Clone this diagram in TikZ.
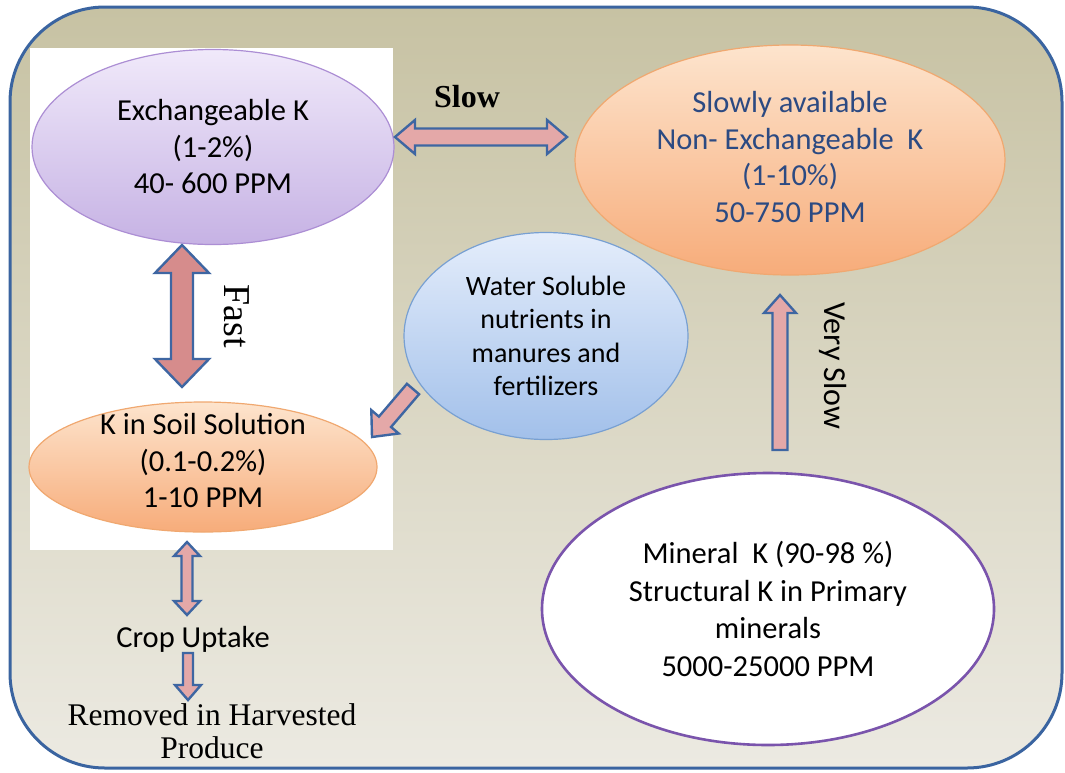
\documentclass[tikz,border=0pt]{standalone}
\usepackage{fontspec}
\setmainfont{Carlito}
\newfontfamily\seriffont{Liberation Serif}
\usetikzlibrary{calc,shapes.geometric}

\definecolor{frameblue}{RGB}{58,100,160}
\definecolor{bgtop}{RGB}{199,194,163}
\definecolor{bgbottom}{RGB}{236,234,226}
\definecolor{arrowpink}{RGB}{228,168,168}
\definecolor{arrowrose}{RGB}{214,140,140}
\definecolor{arrowedge}{RGB}{62,102,162}
\definecolor{lavtop}{RGB}{240,233,250}
\definecolor{lavbottom}{RGB}{198,178,228}
\definecolor{lavedge}{RGB}{172,142,212}
\definecolor{ortop}{RGB}{253,228,205}
\definecolor{orbottom}{RGB}{247,172,122}
\definecolor{oredge}{RGB}{240,168,112}
\definecolor{bltop}{RGB}{228,237,251}
\definecolor{blbottom}{RGB}{162,192,234}
\definecolor{bledge}{RGB}{120,160,210}
\definecolor{minedge}{RGB}{122,84,172}
\definecolor{slowblue}{RGB}{44,74,130}

\newcommand{\fsz}[2]{\fontsize{#1}{#2}\selectfont}

% single block arrow: tail, tip, half shaft, half head, head length
\newcommand{\blocksingle}[6][]{%
  \path ($(#3)!#6!(#2)$) coordinate (hb);
  \path[blockarrow,#1] ($(#2)!#4!90:(#3)$) -- ($(hb)!#4!-90:(#2)$)
    -- ($(hb)!#5!-90:(#2)$) -- (#3) -- ($(hb)!#5!90:(#2)$)
    -- ($(hb)!#4!90:(#2)$) -- ($(#2)!#4!-90:(#3)$) -- cycle;
}
% double block arrow: end a, end b, half shaft, half head, head length
\newcommand{\blockdouble}[6][]{%
  \path ($(#2)!#6!(#3)$) coordinate (ha) ($(#3)!#6!(#2)$) coordinate (hb);
  \path[blockarrow,#1] (#2) -- ($(ha)!#5!90:(#3)$) -- ($(ha)!#4!90:(#3)$)
    -- ($(hb)!#4!-90:(#2)$) -- ($(hb)!#5!-90:(#2)$) -- (#3)
    -- ($(hb)!#5!90:(#2)$) -- ($(hb)!#4!90:(#2)$)
    -- ($(ha)!#4!-90:(#3)$) -- ($(ha)!#5!-90:(#3)$) -- cycle;
}

\begin{document}
\begin{tikzpicture}[x=1pt,y=-1pt,
  blockarrow/.style={fill=arrowpink,draw=arrowedge,line width=2.4pt,line join=miter},
  pool/.style={ellipse,inner sep=0pt,line width=1.2pt},
  pooltext/.style={align=center,inner sep=0pt,font=\fsz{30.5}{36.5}},
  ratelabel/.style={inner sep=0pt}]

\useasboundingbox (0,0) rectangle (1065,772);

% outer panel and the white backing behind the fast pools
\path[draw=frameblue,line width=3pt,top color=bgtop,bottom color=bgbottom,
      rounded corners=95pt] (10,7) rectangle (1062,768);
\fill[white] (30,48) rectangle (393,550);

% pools
\node[pool,minimum width=362pt,minimum height=195pt,
      top color=lavtop,bottom color=lavbottom,draw=lavedge] (exch) at (213,147) {};
\node[pooltext] at (exch) {Exchangeable K\\(1-2\%)\\40- 600 PPM};

\node[pool,minimum width=430pt,minimum height=230pt,
      top color=ortop,bottom color=orbottom,draw=oredge] (nonex) at (790,160) {};
\node[pooltext,text=slowblue] at ($(nonex)+(0,-3)$) {Slowly available\\Non- Exchangeable\ \ K\\(1-10\%)\\50-750 PPM};

\node[pool,minimum width=284pt,minimum height=207pt,
      top color=bltop,bottom color=blbottom,draw=bledge] (water) at (546,336) {};
\node[pooltext,font=\fsz{28}{33.5}] at (water) {Water Soluble\\nutrients in\\manures and\\fertilizers};

\node[pool,minimum width=348pt,minimum height=130pt,
      top color=ortop,bottom color=orbottom,draw=oredge] (soil) at (203,467) {};
\node[pooltext] at ($(soil)+(0,-6)$) {K in Soil Solution\\(0.1-0.2\%)\\1-10 PPM};

\node[pool,minimum width=452pt,minimum height=272pt,fill=white,
      draw=minedge,line width=2.6pt] (mineral) at (768,609) {};
\node[pooltext,font=\fsz{30.5}{37.5}] at (mineral) {Mineral\ \ K (90-98 \%)\\Structural K in Primary\\minerals\\5000-25000 PPM};

% plain text stages
\node[pooltext] (uptake) at (193,639) {Crop Uptake};
\node[pooltext,font=\seriffont\fsz{31.5}{33}] (harvest) at (212,731) {Removed in Harvested\\Produce};

% arrow end points
\coordinate (slowA) at (395,137);
\coordinate (slowB) at (567,137);
\coordinate (fastA) at (182,245);
\coordinate (fastB) at (182,387);
\coordinate (vslowA) at (780,450);
\coordinate (vslowB) at (780,295);
\coordinate (addA) at (413,389);
\coordinate (addB) at (372,437);
\coordinate (cropA) at (187,542);
\coordinate (cropB) at (187,615);
\coordinate (remA) at (188,653);
\coordinate (remB) at (188,700);

% transfers between pools
\blockdouble{slowA}{slowB}{8.5pt}{17pt}{20pt}
\blockdouble[fill=arrowrose]{fastA}{fastB}{11pt}{27pt}{28pt}
\blocksingle{vslowA}{vslowB}{7.5pt}{16pt}{18pt}
\blocksingle{addA}{addB}{8pt}{18pt}{20pt}
\blockdouble{cropA}{cropB}{5.5pt}{13pt}{14pt}
\blocksingle{remA}{remB}{5pt}{13pt}{15pt}

% rate labels
\node[ratelabel,font=\seriffont\bfseries\fsz{32}{32}] at (467,97) {Slow};
\node[ratelabel,font=\seriffont\fsz{38}{38},rotate=-90] at (237,316) {Fast};
\node[ratelabel,font=\fsz{32}{32},rotate=-90] at (833,366) {Very Slow};

\end{tikzpicture}
\end{document}
